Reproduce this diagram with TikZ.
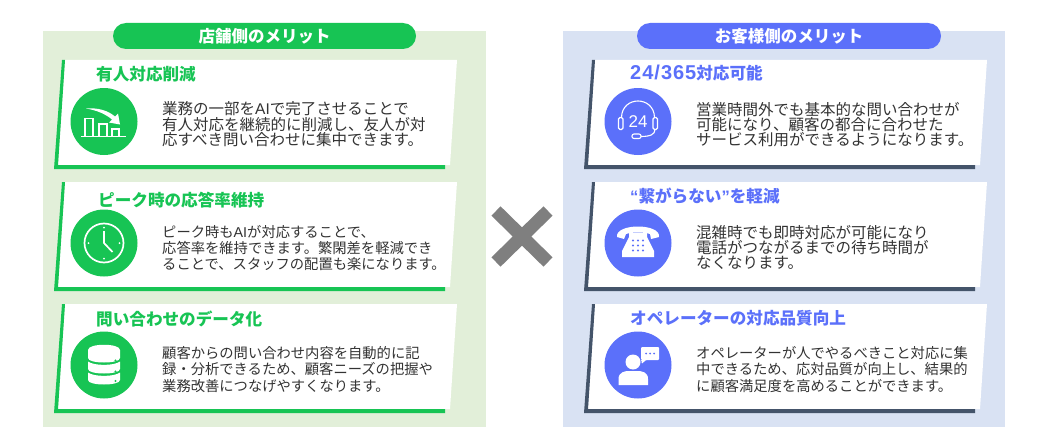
\documentclass[tikz,border=0pt]{standalone}
\usepackage{fontspec}
\setmainfont{Noto Sans CJK JP}
\newfontfamily\figlatin{Liberation Sans}
\newfontfamily\figlatinwide[LetterSpace=5]{Liberation Sans}
\definecolor{figgreen}{HTML}{17C454}
\definecolor{figgreenpale}{HTML}{E2EFD9}
\definecolor{figblue}{HTML}{5B70FA}
\definecolor{figbluepale}{HTML}{D9E2F3}
\definecolor{figslate}{HTML}{44546A}
\definecolor{figgrey}{HTML}{7F7F7F}
\definecolor{figtext}{HTML}{333333}
\tikzset{
    pilllabel/.style={rounded corners=13pt,minimum height=26pt,inner sep=0pt,text=white,font={\fontsize{16.5}{18}\selectfont\bfseries}},
    cardtitle/.style={anchor=west,inner sep=0pt,font={\fontsize{16.6}{18}\selectfont\bfseries}},
    cardbody/.style={anchor=west,inner sep=0pt,align=left,text=figtext},
    iconline/.style={draw=white,line width=1.1pt,fill=none},
}
\begin{document}
\begin{tikzpicture}[x=1pt,y=-1pt]
        \newcommand{\figcardaytop}{60}
        \newcommand{\figcardbytop}{182}
        \newcommand{\figcardcytop}{304}
        \newcommand{\figcardleftx}{65}
        \newcommand{\figcardrightx}{595}
        \newcommand{\figcircleftx}{104}
        \newcommand{\figcircrightx}{638}
        \newcommand{\figcircrad}{33.5}
        \newcommand{\figcircay}{121.5}
        \newcommand{\figcircby}{243}
        \newcommand{\figcirccy}{365}
        \newcommand{\figcard}[3]{
            \fill[white] (#1,#2) -- (#1+392,#2) -- (#1+385,#2+105) -- (#1-7,#2+105) -- cycle;
            \fill[#3] (#1-3,#2) -- (#1,#2) -- (#1-7,#2+105) -- (#1+380,#2+105) -- (#1+380,#2+109) -- (#1-11,#2+109) -- cycle;
        }
        \useasboundingbox (0,0) rectangle (1049,444);
        \fill[white] (0,0) rectangle (1049,444);
        \fill[figgreenpale] (43,31) rectangle (486,427);
        \fill[figbluepale] (563,31) rectangle (1005,427);
        \node[pilllabel,fill=figgreen,minimum width=303pt] (shoppill) at (264.5,36) {店舗側のメリット};
        \node[pilllabel,fill=figblue,minimum width=304pt] (guestpill) at (789,36) {お客様側のメリット};
        \figcard{\figcardleftx}{\figcardaytop}{figgreen}
        \figcard{\figcardleftx}{\figcardbytop}{figgreen}
        \figcard{\figcardleftx}{\figcardcytop}{figgreen}
        \figcard{\figcardrightx}{\figcardaytop}{figslate}
        \figcard{\figcardrightx}{\figcardbytop}{figslate}
        \figcard{\figcardrightx}{\figcardcytop}{figslate}
        \fill[figgreen] (\figcircleftx,\figcircay) circle (\figcircrad);
        \fill[figgreen] (\figcircleftx,\figcircby) circle (\figcircrad);
        \fill[figgreen] (\figcircleftx,\figcirccy) circle (\figcircrad);
        \fill[figblue] (\figcircrightx,\figcircay) circle (\figcircrad);
        \fill[figblue] (\figcircrightx,\figcircby) circle (\figcircrad);
        \fill[figblue] (\figcircrightx,\figcirccy) circle (\figcircrad);
        \node[cardtitle,text=figgreen] (shoptitlea) at (96,74) {有人対応削減};
        \node[cardtitle,text=figgreen] (shoptitleb) at (98,200) {ピーク時の応答率維持};
        \node[cardtitle,text=figgreen] (shoptitlec) at (96,319) {問い合わせのデータ化};
        \node[cardtitle,text=figblue] (guesttitlea) at (630,73) {{\figlatinwide\fontsize{20}{20}\selectfont 24/365}対応可能};
        \node[cardtitle,text=figblue] (guesttitleb) at (630,196) {{\figlatin “}繋がらない{\figlatin ”}を軽減};
        \node[cardtitle,text=figblue] (guesttitlec) at (630,318) {オペレーターの対応品質向上};
        \node[cardbody,font={\fontsize{15.5}{15.6}\selectfont}] (shopbodya) at (162,124.5) {業務の一部を{\figlatin AI}で完了させることで\\有人対応を継続的に削減し、友人が対\\応すべき問い合わせに集中できます。};
        \node[cardbody,font={\fontsize{14.3}{16.3}\selectfont}] (shopbodyb) at (162,248) {ピーク時も{\figlatin AI}が対応することで、\\応答率を維持できます。繁閑差を軽減でき\\ることで、スタッフの配置も楽になります。};
        \node[cardbody,font={\fontsize{14.3}{16.5}\selectfont}] (shopbodyc) at (162,369.5) {顧客からの問い合わせ内容を自動的に記\\録・分析できるため、顧客ニーズの把握や\\業務改善につなげやすくなります。};
        \node[cardbody,font={\fontsize{15.5}{15}\selectfont}] (guestbodya) at (696,124.5) {営業時間外でも基本的な問い合わせが\\可能になり、顧客の都合に合わせた\\サービス利用ができるようになります。};
        \node[cardbody,font={\fontsize{15.5}{15}\selectfont}] (guestbodyb) at (696,247) {混雑時でも即時対応が可能になり\\電話がつながるまでの待ち時間が\\なくなります。};
        \node[cardbody,font={\fontsize{14.3}{16.5}\selectfont}] (guestbodyc) at (696,369.5) {オペレーターが人でやるべきこと対応に集\\中できるため、応対品質が向上し、結果的\\に顧客満足度を高めることができます。};
        \draw[figgrey,line width=13pt] (496,211) -- (548,262);
        \draw[figgrey,line width=13pt] (548,211) -- (496,262);
        \begin{scope}[shift={(\figcircleftx,\figcircay)}]
            \draw[iconline] (-23,15) -- (22,15);
            \draw[iconline] (-19,15) -- (-19,-3) -- (-11,-3) -- (-11,15);
            \draw[iconline] (-5,15) -- (-5,2.5) -- (3,2.5) -- (3,15);
            \draw[iconline] (8,15) -- (8,7.5) -- (15,7.5) -- (15,15);
            \fill[white] (-18,-13) .. controls (-6,-14) and (4,-11) .. (11,-5) -- (14,-8) -- (16,3) -- (5,1) -- (8,-2) .. controls (2,-7) and (-6,-11) .. (-18,-13) -- cycle;
        \end{scope}
        \begin{scope}[shift={(\figcircleftx,\figcircby)}]
            \draw[white,line width=1.7pt] (0,0) circle (19.5);
            \draw[white,line width=1.7pt] (0,-12) -- (0,0) -- (8.5,9);
            \fill[white] (0,-15.5) circle (1) (0,15.5) circle (1) (-15.5,0) circle (1) (15.5,0) circle (1);
        \end{scope}
        \begin{scope}[shift={(\figcircleftx,\figcirccy)}]
            \fill[white] (-16,-15) .. controls (-16,-22) and (16,-22) .. (16,-15) -- (16,-7) .. controls (16,-1) and (-16,-1) .. (-16,-7) -- cycle;
            \fill[white] (-16,-3.5) .. controls (-10,1) and (10,1) .. (16,-3.5) -- (16,4) .. controls (16,10) and (-16,10) .. (-16,4) -- cycle;
            \fill[white] (-16,7.5) .. controls (-10,12) and (10,12) .. (16,7.5) -- (16,15) .. controls (16,21) and (-16,21) .. (-16,15) -- cycle;
            \fill[figgreen] (11.5,-4.5) circle (1.2) (11.5,6.5) circle (1.2) (11.5,16) circle (1.2);
        \end{scope}
        \begin{scope}[shift={(\figcircrightx,\figcircay)}]
            \draw[iconline] (-16.5,-4) .. controls (-16,-26) and (16,-26) .. (16.5,-4);
            \draw[iconline,rounded corners=1.5pt] (-19.5,-4) rectangle (-15,8);
            \draw[iconline,rounded corners=1.5pt] (15,-4) rectangle (19.5,8);
            \draw[iconline] (17,8) .. controls (17,13) and (12,15) .. (3,15);
            \draw[iconline,rounded corners=2pt] (-6,12.5) rectangle (3,17);
            \node[inner sep=0pt,text=white,font={\fontsize{17}{18}\selectfont\figlatin}] (headsetlabel) at (0,0.5) {24};
        \end{scope}
        \begin{scope}[shift={(\figcircrightx,\figcircby)}]
            \fill[white] (-21,-6) .. controls (-23,-20) and (23,-20) .. (21,-6) -- (13,-4) -- (12,-9) .. controls (6,-11) and (-6,-11) .. (-12,-9) -- (-14,-4) -- cycle;
            \fill[white] (-9,-10) -- (9,-10) -- (9,-6) -- (16,8) -- (16,14) -- (-16,14) -- (-16,8) -- (-9,-6) -- cycle;
            \fill[figblue] (-5,-2.5) circle (1.1) (0,-2.5) circle (1.1) (5,-2.5) circle (1.1) (-5,2.5) circle (1.1) (0,2.5) circle (1.1) (5,2.5) circle (1.1) (-5,7.5) circle (1.1) (0,7.5) circle (1.1) (5,7.5) circle (1.1);
        \end{scope}
        \begin{scope}[shift={(\figcircrightx,\figcirccy)}]
            \fill[white] (-5,-3) circle (7.5);
            \fill[white] (-19.5,20) -- (-19.5,14) .. controls (-19.5,7) and (-13,6) .. (-9,6) -- (-1,6) .. controls (4,6) and (10,7) .. (10,14) -- (10,20) -- cycle;
            \fill[white,rounded corners=1pt] (3,-18) -- (21,-18) -- (21,-5) -- (8,-5) -- (3.5,-1) -- (3.5,-5) -- (3,-5) -- cycle;
            \fill[figblue] (8,-11.5) circle (1) (12,-11.5) circle (1) (16,-11.5) circle (1);
        \end{scope}
    \end{tikzpicture}
\end{document}
